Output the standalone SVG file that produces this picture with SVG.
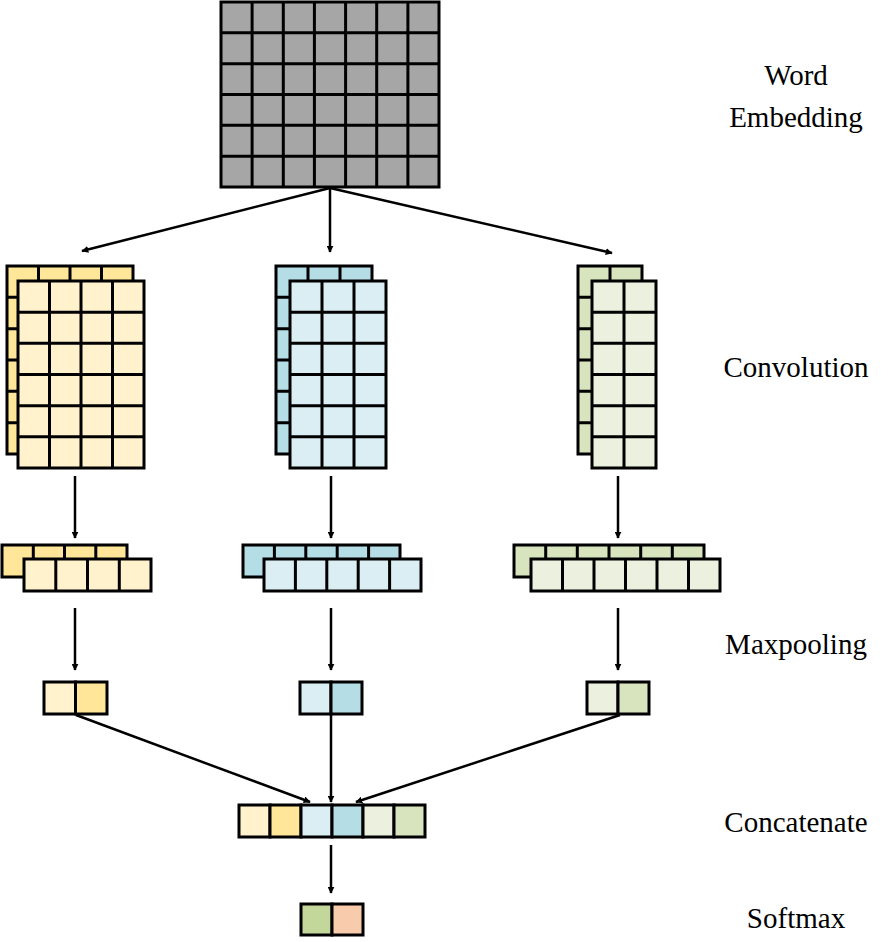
<svg xmlns="http://www.w3.org/2000/svg" width="890" height="942" viewBox="0 0 890 942">
<style>
.g{stroke:#000;stroke-width:3;}
.l{fill:none;stroke:#000;stroke-width:3;}
.a{fill:none;stroke:#000;stroke-width:2.5;marker-end:url(#ah);}
text{font-family:"Liberation Serif",serif;font-size:29px;fill:#000;text-anchor:middle;}
</style>
<defs><marker id="ah" viewBox="0 0 10 10" refX="9" refY="5" markerWidth="7" markerHeight="7" markerUnits="userSpaceOnUse" orient="auto"><path d="M0,0L10,5L0,10z" fill="#000"/></marker>
<marker id="ah2" viewBox="0 0 10 10" refX="9" refY="5" markerWidth="8" markerHeight="8" orient="auto"><path d="M0,0L10,5L0,10z" fill="#000"/></marker></defs>
<rect width="890" height="942" fill="#fff"/>
<g id="embedding">
<rect class="g" x="221" y="2" width="218" height="185" fill="#a6a6a6"/>
<path class="l" d="M252.1,2V187M283.3,2V187M314.4,2V187M345.6,2V187M376.7,2V187M407.9,2V187M221,32.8H439M221,63.7H439M221,94.5H439M221,125.3H439M221,156.2H439"/>
</g>
<g id="conv1">
<rect class="g" x="7" y="266" width="126" height="188" fill="#ffe699"/>
<path class="l" d="M38.5,266V281M70,266V281M101.5,266V281M7,297.3H18M7,328.7H18M7,360H18M7,391.3H18M7,422.7H18"/>
<rect class="g" x="18" y="281" width="126" height="187" fill="#fff2cc"/>
<path class="l" d="M49.5,281V468M81,281V468M112.5,281V468M18,312.2H144M18,343.3H144M18,374.5H144M18,405.7H144M18,436.8H144"/>
</g>
<g id="conv2">
<rect class="g" x="276" y="266" width="96" height="188" fill="#b4dde6"/>
<path class="l" d="M308,266V281M340,266V281M276,297.3H290M276,328.7H290M276,360H290M276,391.3H290M276,422.7H290"/>
<rect class="g" x="290" y="281" width="96" height="187" fill="#dbeef4"/>
<path class="l" d="M322,281V468M354,281V468M290,312.2H386M290,343.3H386M290,374.5H386M290,405.7H386M290,436.8H386"/>
</g>
<g id="conv3">
<rect class="g" x="578" y="266" width="64" height="188" fill="#d7e4bd"/>
<path class="l" d="M610,266V281M578,297.3H592M578,328.7H592M578,360H592M578,391.3H592M578,422.7H592"/>
<rect class="g" x="592" y="281" width="64" height="187" fill="#ebf1de"/>
<path class="l" d="M624,281V468M592,312.2H656M592,343.3H656M592,374.5H656M592,405.7H656M592,436.8H656"/>
</g>
<g id="pool1">
<rect class="g" x="2" y="545" width="125" height="32" fill="#ffe699"/>
<path class="l" d="M33.3,545V559M64.5,545V559M95.8,545V559"/>
<rect class="g" x="24" y="559" width="127" height="32" fill="#fff2cc"/>
<path class="l" d="M55.8,559V591M87.5,559V591M119.3,559V591"/>
</g>
<g id="pool2">
<rect class="g" x="243" y="545" width="157" height="32" fill="#b4dde6"/>
<path class="l" d="M274.4,545V559M305.8,545V559M337.2,545V559M368.6,545V559"/>
<rect class="g" x="264" y="559" width="157" height="32" fill="#dbeef4"/>
<path class="l" d="M295.4,559V591M326.8,559V591M358.2,559V591M389.6,559V591"/>
</g>
<g id="pool3">
<rect class="g" x="514" y="545" width="190" height="32" fill="#d7e4bd"/>
<path class="l" d="M545.7,545V559M577.3,545V559M609,545V559M640.7,545V559M672.3,545V559"/>
<rect class="g" x="531" y="559" width="189" height="32" fill="#ebf1de"/>
<path class="l" d="M562.5,559V591M594,559V591M625.5,559V591M657,559V591M688.5,559V591"/>
</g>
<g id="max1"><rect class="g" x="44" y="682" width="31.5" height="32" fill="#fff2cc"/><rect class="g" x="75.5" y="682" width="31.5" height="32" fill="#ffe699"/></g>
<g id="max2"><rect class="g" x="300" y="682" width="31" height="32" fill="#dbeef4"/><rect class="g" x="331" y="682" width="31" height="32" fill="#b4dde6"/></g>
<g id="max3"><rect class="g" x="587" y="682" width="31" height="32" fill="#ebf1de"/><rect class="g" x="618" y="682" width="31" height="32" fill="#d7e4bd"/></g>
<g id="concat">
<rect class="g" x="239" y="805" width="31" height="32" fill="#fff2cc"/>
<rect class="g" x="270" y="805" width="31" height="32" fill="#ffe699"/>
<rect class="g" x="301" y="805" width="31" height="32" fill="#dbeef4"/>
<rect class="g" x="332" y="805" width="31" height="32" fill="#b4dde6"/>
<rect class="g" x="363" y="805" width="31" height="32" fill="#ebf1de"/>
<rect class="g" x="394" y="805" width="31" height="32" fill="#d7e4bd"/>
</g>
<g id="softmax"><rect class="g" x="301" y="904" width="31" height="31" fill="#c4d79b"/><rect class="g" x="332" y="904" width="31" height="31" fill="#f8cbad"/></g>
<g id="connectors">
<path class="a" d="M330,188L82,251"/>
<path class="a" d="M330,188V252"/>
<path class="a" d="M330,188L612,253"/>
<path class="a" d="M75,476V538"/>
<path class="a" d="M331,476V538"/>
<path class="a" d="M618,476V538"/>
<path class="a" d="M75,608V670"/>
<path class="a" d="M331,608V670"/>
<path class="a" d="M618,608V670"/>
<path class="a" d="M76,715L310,802"/>
<path class="a" d="M331,715V802"/>
<path class="a" d="M620,715L356,802"/>
<path class="a" d="M331,845V893"/>
</g>
<g id="labels">
<text x="796" y="85">Word</text>
<text x="796" y="127">Embedding</text>
<text x="796" y="377">Convolution</text>
<text x="796" y="654">Maxpooling</text>
<text x="796" y="832">Concatenate</text>
<text x="796" y="928">Softmax</text>
</g>
</svg>
